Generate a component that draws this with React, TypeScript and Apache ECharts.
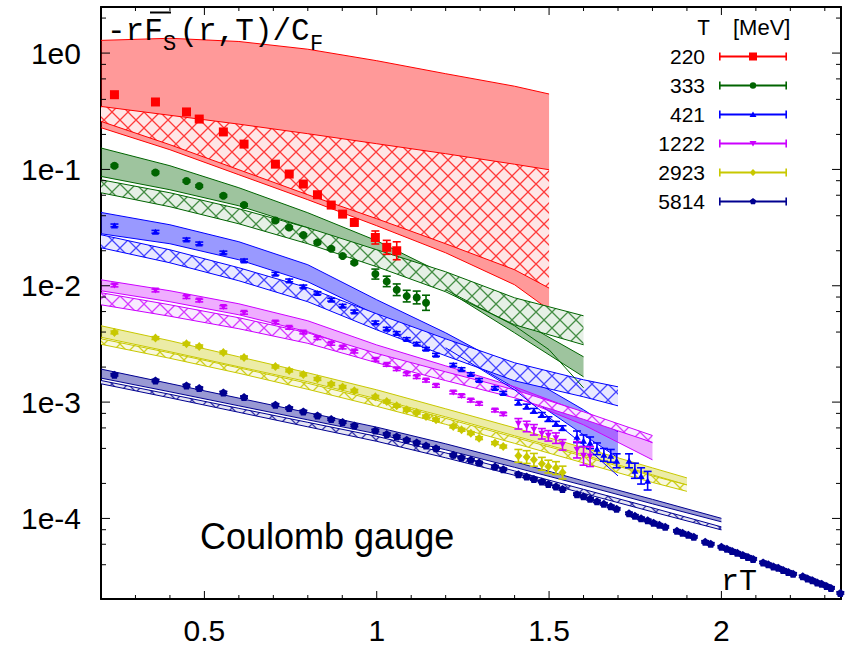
import React, { useEffect, useRef } from 'react';
import * as echarts from 'echarts';

// ---------- axes ----------
const X_MIN = 0.2, X_MAX = 2.347;
const Y_MIN = 2.03e-5, Y_MAX = 2.49;
const xMajorTicks = [0.5, 1, 1.5, 2];
const xMinorTicks = [0.3, 0.4, 0.6, 0.7, 0.8, 0.9, 1.1, 1.2, 1.3, 1.4, 1.6, 1.7, 1.8, 1.9, 2.1, 2.2, 2.3];
const yMajorTicks = [1e-4, 1e-3, 1e-2, 1e-1, 1];
const yMinorTicks = [4e-5, 6e-5, 8e-5, 2e-4, 4e-4, 6e-4, 8e-4, 2e-3, 4e-3, 6e-3, 8e-3, 2e-2, 4e-2, 6e-2, 8e-2, 0.2, 0.4, 0.6, 0.8, 2];

// ---------- lattice data (x = rT) ----------
const rT = [0.239, 0.358, 0.448, 0.485, 0.555, 0.615, 0.706, 0.746, 0.787, 0.828, 0.868, 0.901, 0.935, 0.996, 1.029,
  1.058, 1.087, 1.116, 1.143, 1.172, 1.222, 1.246, 1.273, 1.297, 1.343, 1.367, 1.411, 1.435, 1.456, 1.479, 1.498,
  1.520, 1.539, 1.581, 1.600, 1.619, 1.639, 1.659, 1.679, 1.696, 1.732, 1.749, 1.767, 1.786, 1.803, 1.820, 1.837,
  1.871, 1.887, 1.904, 1.920, 1.953, 1.969, 2.000, 2.016, 2.031, 2.046, 2.062, 2.077, 2.092, 2.121, 2.136, 2.151,
  2.165, 2.179, 2.194, 2.208, 2.236, 2.250, 2.264, 2.278, 2.291, 2.305, 2.318, 2.345];

const temps = ['220', '333', '421', '1222', '2923', '5814'];

const F220 = [0.439, 0.380, 0.312, 0.271, 0.210, 0.165, 0.111, 0.0913, 0.0749, 0.0606, 0.0494, 0.0413, 0.0350, 0.0260, 0.0214, 0.0200];
const E220 = [0.01, 0.01, 0.01, 0.01, 0.01, 0.01, 0.01, 0.01, 0.01, 0.01, 0.01, 0.01, 0.01, 0.056, 0.06, 0.077];

const F333 = [0.1076, 0.0942, 0.0795, 0.0720, 0.0594, 0.0494, 0.0364, 0.0317, 0.0273, 0.0236, 0.0208, 0.0180, 0.0158, 0.0126, 0.0109, 0.00924, 0.00815, 0.00793, 0.00714];
const E333 = [0.01, 0.01, 0.01, 0.01, 0.01, 0.01, 0.01, 0.01, 0.01, 0.01, 0.01, 0.01, 0.01, 0.043, 0.045, 0.05, 0.05, 0.055, 0.065];

const F421 = [0.0330, 0.0291, 0.0250, 0.0231, 0.0193, 0.0165, 0.01268, 0.01111, 0.00986, 0.00865, 0.00758, 0.00673, 0.00601,
  0.00484, 0.00427, 0.00392, 0.00348, 0.00317, 0.00287, 0.00255, 0.00209, 0.00192, 0.00174, 0.00155, 0.00132, 0.00120,
  0.000992, 0.000917, 0.000842, 0.000777, 0.000714, 0.000651, 0.000598, 0.000503, 0.000465, 0.000447, 0.000397,
  0.000352, 0.000345, 0.000313, 0.000313, 0.000257, 0.000232, 0.000211];
const E421 = [0.012, 0.012, 0.012, 0.012, 0.012, 0.012, 0.012, 0.012, 0.012, 0.012, 0.012, 0.012, 0.012, 0.012, 0.012,
  0.012, 0.012, 0.012, 0.012, 0.012, 0.012, 0.012, 0.012, 0.012, 0.012, 0.012, 0.02, 0.02, 0.02, 0.02, 0.02, 0.02, 0.02,
  0.05, 0.05, 0.05, 0.05, 0.055, 0.055, 0.06, 0.06, 0.065, 0.07, 0.08];

const F1222 = [0.01006, 0.00911, 0.00799, 0.00747, 0.00656, 0.00586, 0.00484, 0.00435, 0.00397, 0.00355, 0.00317, 0.00295,
  0.00272, 0.00231, 0.00209, 0.00192, 0.00174, 0.00164, 0.00153, 0.00138, 0.00121, 0.00113, 0.00103, 0.000967, 0.000847,
  0.000788, 0.000651, 0.000617, 0.000578, 0.000534, 0.000513, 0.000490, 0.000429, 0.000389, 0.000345, 0.000340];
const E1222 = [0.012, 0.012, 0.012, 0.012, 0.012, 0.012, 0.012, 0.012, 0.012, 0.012, 0.012, 0.012, 0.012, 0.012, 0.012,
  0.012, 0.012, 0.012, 0.012, 0.012, 0.012, 0.012, 0.012, 0.012, 0.012, 0.012, 0.045, 0.045, 0.045, 0.045, 0.045, 0.045,
  0.045, 0.07, 0.08, 0.085];

const F2923 = [0.00397, 0.00355, 0.00317, 0.00301, 0.00267, 0.00242, 0.00202, 0.00187, 0.00173, 0.00158, 0.00143, 0.00135,
  0.00125, 0.00111, 0.00101, 0.000929, 0.000859, 0.000814, 0.000752, 0.000704, 0.000617, 0.000578, 0.000541, 0.000490,
  0.000444, 0.000415, 0.000345, 0.000337, 0.000319, 0.000295, 0.000279, 0.000271, 0.000248];
const E2923 = [0.012, 0.012, 0.012, 0.012, 0.012, 0.012, 0.012, 0.012, 0.012, 0.012, 0.012, 0.012, 0.012, 0.012, 0.012,
  0.012, 0.012, 0.012, 0.012, 0.012, 0.012, 0.012, 0.012, 0.012, 0.012, 0.012, 0.055, 0.055, 0.055, 0.055, 0.055, 0.055, 0.055];

const F5814 = [0.001717, 0.001533, 0.001389, 0.001319, 0.001209, 0.001104, 0.000948, 0.000888, 0.000830, 0.000767, 0.000714,
  0.000673, 0.000629, 0.000570, 0.000531, 0.000506, 0.000474, 0.000449, 0.000423, 0.000402, 0.000352, 0.000334, 0.000319,
  0.000302, 0.000279, 0.000265, 0.000240, 0.000229, 0.000218, 0.000208, 0.000198, 0.000188, 0.000179, 1.618e-4, 1.549e-4,
  1.474e-4, 1.403e-4, 1.335e-4, 1.271e-4, 1.209e-4, 1.106e-4, 1.053e-4, 1.002e-4, 9.63e-5, 9.17e-5, 8.81e-5, 8.47e-5,
  7.82e-5, 7.52e-5, 7.23e-5, 6.95e-5, 6.29e-5, 6.05e-5, 5.70e-5, 5.48e-5, 5.26e-5, 5.06e-5, 4.86e-5, 4.67e-5, 4.49e-5,
  4.19e-5, 4.03e-5, 3.87e-5, 3.76e-5, 3.61e-5, 3.47e-5, 3.34e-5, 3.18e-5, 3.05e-5, 2.94e-5, 2.82e-5, 2.74e-5, 2.63e-5,
  2.53e-5, 2.29e-5];
const E5814 = [0.01, 0.01, 0.01, 0.01, 0.01, 0.01, 0.01, 0.01, 0.01, 0.01, 0.01, 0.01, 0.01, 0.01, 0.01, 0.01, 0.01, 0.01,
  0.01, 0.01, 0.01, 0.01, 0.01, 0.01, 0.01, 0.01, 0.01, 0.01, 0.01, 0.01, 0.01, 0.01, 0.01, 0.01, 0.01, 0.01, 0.01, 0.01,
  0.01, 0.01, 0.01, 0.01, 0.01, 0.01, 0.01, 0.01, 0.01, 0.01, 0.01, 0.01, 0.01, 0.01, 0.01, 0.01, 0.01, 0.01, 0.01, 0.01,
  0.01, 0.01, 0.01, 0.01, 0.01, 0.01, 0.01, 0.01, 0.01, 0.01, 0.01, 0.01, 0.01, 0.01, 0.01, 0.01, 0.01];

// ---------- model bands ----------
const bandX220 = [0.2, 0.4, 0.6, 0.8, 1.0, 1.2, 1.4, 1.5];
const solidHi220 = [1.286, 1.341, 1.258, 1.080, 0.860, 0.665, 0.519, 0.445];
const solidLo220 = [0.2284, 0.1477, 0.0900, 0.0549, 0.0328, 0.0192, 0.0102, 0.00622];
const hatchHi220 = [0.348, 0.292, 0.245, 0.2028, 0.1663, 0.1365, 0.1108, 0.0994];
const hatchLo220 = [0.2587, 0.1631, 0.0994, 0.0606, 0.0377, 0.02297, 0.01373, 0.00955];

const bandX333 = [0.2, 0.4, 0.6, 0.8, 1.0, 1.2, 1.4, 1.6];
const solidHi333 = [0.1528, 0.1076, 0.0696, 0.04242, 0.02436, 0.01243, 0.00531, 0.002452];
const solidLo333 = [0.0871, 0.0669, 0.0487, 0.03153, 0.01811, 0.00924, 0.00394, 0.00165];
const hatchHi333 = [0.0815, 0.0630, 0.0459, 0.03153, 0.02039, 0.01319, 0.00788, 0.00552];
const hatchLo333 = [0.0630, 0.0478, 0.0341, 0.02297, 0.01457, 0.00888, 0.00462, 0.00311];
const extraX333 = [1.2, 1.4, 1.5, 1.6];
const extraLine333 = [0.00924, 0.00453, 0.00282, 0.001327];

const bandX421 = [0.2, 0.4, 0.6, 0.8, 1.0, 1.2, 1.4, 1.6, 1.7];
const solidHi421 = [0.04268, 0.03345, 0.02389, 0.01516, 0.00758, 0.00394, 0.001895, 0.000859, 0.000555];
const solidLo421 = [0.0280, 0.02297, 0.01673, 0.01082, 0.00563, 0.00293, 0.001327, 0.000523, 0.000332];
const hatchHi421 = [0.02745, 0.02039, 0.01428, 0.00961, 0.00574, 0.00350, 0.002177, 0.001555, 0.001353];
const hatchLo421 = [0.02122, 0.01576, 0.01104, 0.00729, 0.00418, 0.002501, 0.001524, 0.001110, 0.000929];
const extraX421 = [1.2, 1.4, 1.6, 1.7];
const extraLine421 = [0.00293, 0.001275, 0.000429, 0.000232];

const bandX1222 = [0.2, 0.4, 0.6, 0.8, 1.0, 1.2, 1.4, 1.6, 1.8];
const solidHi1222 = [0.01126, 0.00906, 0.00700, 0.00500, 0.00310, 0.00205, 0.001353, 0.000809, 0.000447];
const solidLo1222 = [0.00906, 0.00729, 0.00563, 0.00402, 0.00254, 0.00165, 0.001110, 0.000638, 0.000319];
const hatchHi1222 = [0.00871, 0.00686, 0.00531, 0.00394, 0.00262, 0.00182, 0.001275, 0.000825, 0.000516];
const hatchLo1222 = [0.00686, 0.00547, 0.00427, 0.00320, 0.00218, 0.00153, 0.001088, 0.000711, 0.000451];

const bandX2923 = [0.2, 0.4, 0.6, 0.8, 1.0, 1.2, 1.4, 1.6, 1.8, 1.9];
const solidHi2923 = [0.00453, 0.00337, 0.002452, 0.001786, 0.001275, 0.000876, 0.000601, 0.000405, 0.000272, 0.000223];
const solidLo2923 = [0.00361, 0.00271, 0.002011, 0.001495, 0.001067, 0.000747, 0.000513, 0.000352, 0.000237, 0.000194];
const hatchHi2923 = [0.00350, 0.00265, 0.001971, 0.001451, 0.001036, 0.000725, 0.000498, 0.000342, 0.000232, 0.000194];
const hatchLo2923 = [0.00314, 0.002379, 0.001769, 0.001288, 0.000920, 0.000644, 0.000442, 0.000300, 0.000204, 0.000171];

const bandX5814 = [0.2, 0.4, 0.6, 0.8, 1.0, 1.2, 1.4, 1.6, 1.8, 2.0];
const solidHi5814 = [0.001922, 0.001442, 0.001082, 0.000812, 0.000609, 0.000438, 0.000307, 0.000210, 0.0001459, 0.0001002];
const solidLo5814 = [0.001608, 0.001226, 0.000929, 0.000704, 0.000534, 0.000389, 0.000275, 0.0001925, 0.0001335, 0.0000935];
const hatchHi5814 = [0.001533, 0.001167, 0.000884, 0.000670, 0.000508, 0.000366, 0.000256, 0.0001778, 0.0001233, 0.0000846];
const hatchLo5814 = [0.001437, 0.001088, 0.000817, 0.000613, 0.000460, 0.000332, 0.000235, 0.0001643, 0.0001139, 0.0000797];

// ---------- styles ----------
const COLORS = ['#ff0000', '#006400', '#0000ff', '#cc00ff', '#c8c800', '#000090'];
const SOLID_FILL = ['rgba(255,0,0,0.4)', 'rgba(0,100,0,0.38)', 'rgba(0,0,255,0.4)', 'rgba(204,0,255,0.32)', 'rgba(200,200,0,0.35)', 'rgba(0,0,144,0.4)'];
const HATCH_BG = ['#ffe6e6', '#e6f0e6', '#e8e8ff', '#f8ebff', '#f8f8e0', '#e6e6f3'];
const HATCH_LINE = ['rgba(255,0,0,0.75)', 'rgba(0,100,0,0.7)', 'rgba(0,0,255,0.7)', 'rgba(204,0,255,0.75)', 'rgba(200,200,0,0.85)', 'rgba(0,0,144,0.75)'];

const PENTA = 'path://M0,-1 L0.951,-0.309 L0.588,0.809 L-0.588,0.809 L-0.951,-0.309 Z';
const TRI_DOWN = 'path://M0,0 L2,0 L1,1.7 Z';
const SYMBOLS = ['rect', 'circle', 'triangle', TRI_DOWN, 'diamond', PENTA];
const SYMBOL_SIZE = [9, 8, [7, 6], [7, 6], [8, 9], 8];

const LEG_BASE = 'M0 3.1 H68 V4.9 H0 Z M0 0 H1.6 V8 H0 Z M66.4 0 H68 V8 H66.4 Z ';
const LEG_MARK = [
  'M30 0 H38 V8 H30 Z',
  'M30.8 4 A3.2 3.2 0 1 1 37.2 4 A3.2 3.2 0 1 1 30.8 4 Z',
  'M34 1 L37.5 6.5 H30.5 Z',
  'M30.5 1.5 H37.5 L34 7 Z',
  'M34 0.5 L37.5 4 L34 7.5 L30.5 4 Z',
  'M34 0.5 L37.33 2.92 L36.06 6.83 L31.94 6.83 L30.67 2.92 Z',
];

function makeHatch(bg: string, line: string) {
  const c = document.createElement('canvas');
  c.width = 16; c.height = 16;
  const g = c.getContext('2d')!;
  g.fillStyle = bg; g.fillRect(0, 0, 16, 16);
  g.strokeStyle = line; g.lineWidth = 1.3;
  g.beginPath();
  g.moveTo(0, 0); g.lineTo(16, 16);
  g.moveTo(16, 0); g.lineTo(0, 16);
  g.stroke();
  return { image: c.toDataURL(), repeat: 'repeat', imageWidth: 16, imageHeight: 16 };
}

function bandSeries(xs: number[], hi: number[], lo: number[], color: string, fill: any, z: number) {
  return {
    type: 'custom', coordinateSystem: 'cartesian2d', silent: true, z,
    data: [[xs[0], hi[0]]],
    renderItem: (_p: any, api: any) => {
      const top = xs.map((x, i) => api.coord([x, hi[i]]));
      const bot = xs.map((x, i) => api.coord([x, lo[i]]));
      const poly = top.concat(bot.slice().reverse());
      return {
        type: 'group', children: [
          { type: 'polygon', shape: { points: poly }, style: { fill, stroke: null } },
          { type: 'polyline', shape: { points: top }, style: { stroke: color, lineWidth: 1, fill: null } },
          { type: 'polyline', shape: { points: bot }, style: { stroke: color, lineWidth: 1, fill: null } },
        ],
      };
    },
  };
}

function lineSeries(xs: number[], ys: number[], color: string) {
  return {
    type: 'line', silent: true, z: 1, showSymbol: false, symbol: 'none',
    data: xs.map((x, i) => [x, ys[i]]),
    lineStyle: { color, width: 1 },
  };
}

function errSeries(vals: number[], errs: number[], color: string) {
  return {
    type: 'custom', coordinateSystem: 'cartesian2d', silent: true, z: 3,
    data: vals.map((v, i) => [rT[i], v * Math.pow(10, -errs[i]), v * Math.pow(10, errs[i])]),
    encode: { x: 0, y: [1, 2] },
    renderItem: (_p: any, api: any) => {
      const x = api.value(0);
      const a = api.coord([x, api.value(1)]);
      const b = api.coord([x, api.value(2)]);
      const w = 4;
      const st = { stroke: color, lineWidth: 1.6 };
      return {
        type: 'group', children: [
          { type: 'line', shape: { x1: a[0], y1: a[1], x2: b[0], y2: b[1] }, style: st },
          { type: 'line', shape: { x1: a[0] - w, y1: a[1], x2: a[0] + w, y2: a[1] }, style: st },
          { type: 'line', shape: { x1: b[0] - w, y1: b[1], x2: b[0] + w, y2: b[1] }, style: st },
        ],
      };
    },
  };
}

function tickSeries() {
  return {
    type: 'custom', coordinateSystem: 'cartesian2d', silent: true, z: 10,
    data: [[X_MIN, Y_MIN]],
    renderItem: (_p: any, api: any) => {
      const lb = api.coord([X_MIN, Y_MIN]);
      const rt = api.coord([X_MAX, Y_MAX]);
      const st = { stroke: '#000', lineWidth: 1 };
      const ch: any[] = [];
      const ln = (x1: number, y1: number, x2: number, y2: number) =>
        ch.push({ type: 'line', shape: { x1, y1, x2, y2 }, style: st });
      xMajorTicks.forEach((v) => { const px = api.coord([v, Y_MIN])[0]; ln(px, lb[1], px, lb[1] - 8); ln(px, rt[1], px, rt[1] + 8); });
      xMinorTicks.forEach((v) => { const px = api.coord([v, Y_MIN])[0]; ln(px, lb[1], px, lb[1] - 4); ln(px, rt[1], px, rt[1] + 4); });
      yMajorTicks.forEach((v) => { const py = api.coord([X_MIN, v])[1]; ln(lb[0], py, lb[0] + 9, py); ln(rt[0], py, rt[0] - 9, py); });
      yMinorTicks.forEach((v) => { const py = api.coord([X_MIN, v])[1]; ln(lb[0], py, lb[0] + 5, py); ln(rt[0], py, rt[0] - 5, py); });
      return { type: 'group', children: ch };
    },
  };
}

export default function App() {
  const ref = useRef<HTMLDivElement>(null);
  useEffect(() => {
    document.body.style.margin = '0';
    const chart = echarts.init(ref.current!, null, { renderer: 'svg' });
    const bands = [
      [bandX220, solidHi220, solidLo220, hatchHi220, hatchLo220],
      [bandX333, solidHi333, solidLo333, hatchHi333, hatchLo333],
      [bandX421, solidHi421, solidLo421, hatchHi421, hatchLo421],
      [bandX1222, solidHi1222, solidLo1222, hatchHi1222, hatchLo1222],
      [bandX2923, solidHi2923, solidLo2923, hatchHi2923, hatchLo2923],
      [bandX5814, solidHi5814, solidLo5814, hatchHi5814, hatchLo5814],
    ];
    const vals = [F220, F333, F421, F1222, F2923, F5814];
    const errs = [E220, E333, E421, E1222, E2923, E5814];
    const series: any[] = [];
    bands.forEach((b, i) => {
      series.push(bandSeries(b[0], b[1], b[2], COLORS[i], SOLID_FILL[i], 1));
      series.push(bandSeries(b[0], b[3], b[4], COLORS[i], makeHatch(HATCH_BG[i], HATCH_LINE[i]), 1));
    });
    series.push(lineSeries(extraX333, extraLine333, COLORS[1]));
    series.push(lineSeries(extraX421, extraLine421, COLORS[2]));
    vals.forEach((v, i) => series.push(errSeries(v, errs[i], COLORS[i])));
    vals.forEach((v, i) => series.push({
      type: 'scatter', name: temps[i], z: 4, silent: true,
      data: v.map((y, k) => [rT[k], y]),
      symbol: SYMBOLS[i], symbolSize: SYMBOL_SIZE[i],
      itemStyle: { color: COLORS[i], opacity: 1 },
    }));
    series.push(tickSeries());

    const axisLine = { show: true, lineStyle: { color: '#000', width: 2 } };
    const sans = 'Liberation Sans, Arial, Helvetica, sans-serif';
    const mono = 'Liberation Mono, Courier New, monospace';
    chart.setOption({
      animation: false,
      backgroundColor: '#fff',
      grid: { left: 101, top: 7, width: 740, height: 592 },
      xAxis: [
        {
          type: 'value', min: X_MIN, max: X_MAX, position: 'bottom', axisLine, axisTick: { show: false }, splitLine: { show: false },
          axisLabel: { customValues: xMajorTicks, formatter: (v: number) => String(v), fontSize: 30, fontFamily: sans, color: '#000', margin: 16 },
        },
        { type: 'value', min: X_MIN, max: X_MAX, position: 'top', axisLine, axisTick: { show: false }, axisLabel: { show: false }, splitLine: { show: false } },
      ],
      yAxis: [
        {
          type: 'log', logBase: 10, min: Y_MIN, max: Y_MAX, position: 'left', axisLine, axisTick: { show: false }, splitLine: { show: false },
          axisLabel: {
            showMinLabel: false, showMaxLabel: false, fontSize: 30, fontFamily: sans, color: '#000', margin: 20,
            formatter: (v: number) => '1e' + Math.round(Math.log10(v)),
          },
        },
        { type: 'log', logBase: 10, min: Y_MIN, max: Y_MAX, position: 'right', axisLine, axisTick: { show: false }, axisLabel: { show: false }, splitLine: { show: false } },
      ],
      legend: {
        orient: 'vertical', right: 59, top: 46, align: 'right', padding: 0,
        itemWidth: 68, itemHeight: 8, itemGap: 8, selectedMode: false,
        textStyle: { fontSize: 21, fontFamily: sans, color: '#000', padding: [0, 9, 0, 0] },
        data: temps.map((t, i) => ({ name: t, icon: 'path://' + LEG_BASE + LEG_MARK[i] })),
      },
      graphic: [
        { type: 'text', x: 107, y: 31.7, style: { text: '-rF', font: `31px ${mono}`, fill: '#000', verticalAlign: 'middle' }, z: 20 },
        { type: 'text', x: 163, y: 44.6, style: { text: 'S', font: `22px ${mono}`, fill: '#000', verticalAlign: 'middle' }, z: 20 },
        { type: 'text', x: 179.5, y: 31.7, style: { text: '(r,T)/C', font: `31px ${mono}`, fill: '#000', verticalAlign: 'middle' }, z: 20 },
        { type: 'text', x: 310, y: 44.6, style: { text: 'F', font: `22px ${mono}`, fill: '#000', verticalAlign: 'middle' }, z: 20 },
        { type: 'line', shape: { x1: 150, y1: 12.5, x2: 171, y2: 12.5 }, style: { stroke: '#000', lineWidth: 2 }, z: 20 },
        { type: 'text', x: 721, y: 582, style: { text: 'rT', font: `30px ${mono}`, fill: '#000', verticalAlign: 'middle' }, z: 20 },
        { type: 'text', x: 200, y: 536.8, style: { text: 'Coulomb gauge', font: `36px ${sans}`, fill: '#000', verticalAlign: 'middle' }, z: 20 },
        { type: 'text', x: 697, y: 29.1, style: { text: 'T', font: `22px ${mono}`, fill: '#000', verticalAlign: 'middle' }, z: 20 },
        { type: 'text', x: 733, y: 27.4, style: { text: '[MeV]', font: `22px ${sans}`, fill: '#000', verticalAlign: 'middle' }, z: 20 },
      ],
      series,
    });
    return () => chart.dispose();
  }, []);
  return <div ref={ref} style={{ position: 'fixed', left: 0, top: 0, width: 846, height: 647 }} />;
}
